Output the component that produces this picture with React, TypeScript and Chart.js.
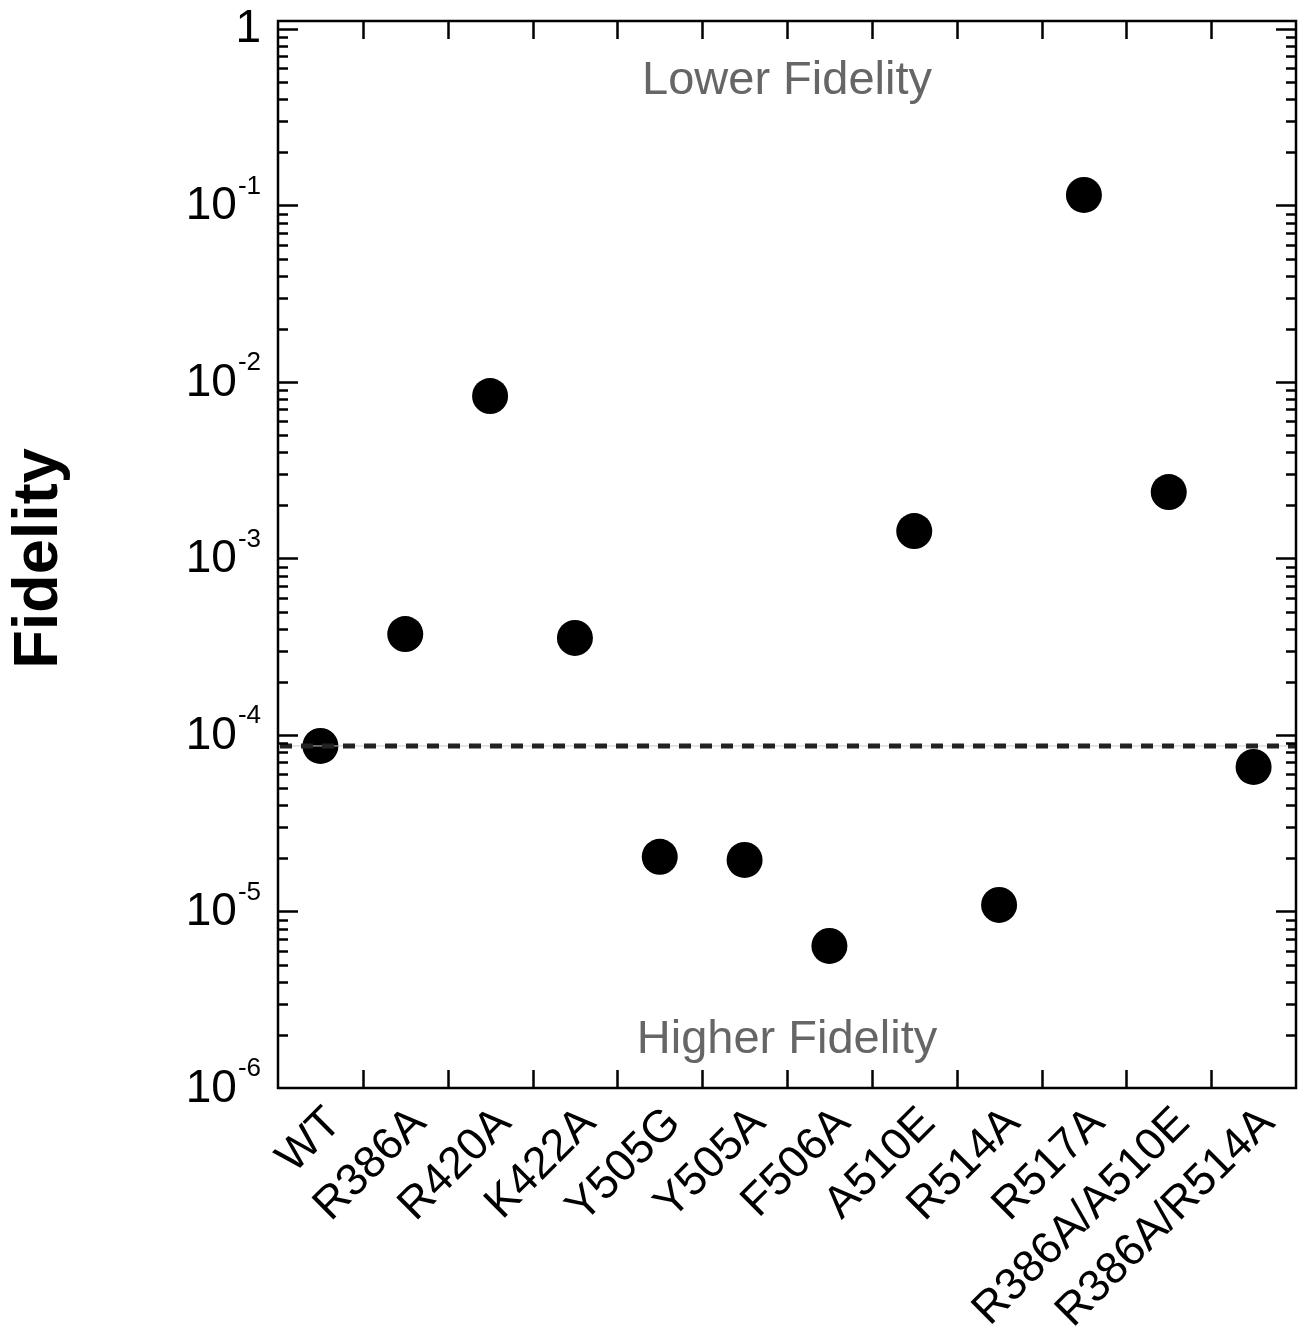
import React, { useEffect, useRef } from "react";
import { Chart, registerables } from "chart.js";

Chart.register(...registerables);

const categories = [
  "WT",
  "R386A",
  "R420A",
  "K422A",
  "Y505G",
  "Y505A",
  "F506A",
  "A510E",
  "R514A",
  "R517A",
  "R386A/A510E",
  "R386A/R514A",
];
const fidelity = [
  8.67e-5, 3.73e-4, 8.33e-3, 3.55e-4, 2.04e-5, 1.96e-5, 6.38e-6, 1.43e-3,
  1.09e-5, 0.1147, 2.38e-3, 6.59e-5,
];
const wtReference = 8.67e-5;
const yMin = 1e-6;
const yMax = 1.11;
const decadeExponents = [0, -1, -2, -3, -4, -5, -6];
const minorMultipliers = [2, 3, 4, 5, 6, 7, 8, 9];
const topNote = "Lower Fidelity";
const bottomNote = "Higher Fidelity";
const yTitle = "Fidelity";

const FONT = "'Liberation Sans', Arial, sans-serif";

const axisPlugin = {
  id: "axisPlugin",
  afterDatasetsDraw(chart: any) {
    const { ctx, chartArea: a, scales } = chart;
    const yr = scales.y.getPixelForValue(wtReference);
    ctx.save();
    ctx.strokeStyle = "#c8c8c8";
    ctx.lineWidth = 1;
    ctx.beginPath();
    ctx.moveTo(a.left, yr);
    ctx.lineTo(a.right, yr);
    ctx.stroke();
    ctx.setLineDash([12, 9]);
    ctx.lineWidth = 5;
    ctx.strokeStyle = "#222222";
    ctx.beginPath();
    ctx.moveTo(a.left + 2, yr);
    ctx.lineTo(a.right, yr);
    ctx.stroke();
    ctx.restore();
  },
  afterDraw(chart: any) {
    const { ctx, chartArea: a, scales } = chart;
    const y = scales.y;
    const x = scales.x;
    ctx.save();
    ctx.strokeStyle = "#000";
    ctx.lineWidth = 2.5;
    ctx.lineCap = "butt";
    ctx.strokeRect(a.left, a.top, a.right - a.left, a.bottom - a.top);

    // y ticks (left & right, inward)
    const drawYTick = (v: number, len: number) => {
      const py = Math.round(y.getPixelForValue(v)) + 0.5;
      ctx.beginPath();
      ctx.moveTo(a.left, py);
      ctx.lineTo(a.left + len, py);
      ctx.moveTo(a.right, py);
      ctx.lineTo(a.right - len, py);
      ctx.stroke();
    };
    decadeExponents.forEach((e) => {
      const v = Math.pow(10, e);
      if (e > -6) drawYTick(v, 20);
      if (e < 0) {
        minorMultipliers.forEach((m) => {
          const mv = m * v;
          if (mv <= yMax) drawYTick(mv, 10);
        });
      }
    });

    // x ticks at category boundaries (top & bottom, inward)
    for (let i = 1; i < categories.length; i++) {
      const px =
        Math.round((x.getPixelForValue(i - 1) + x.getPixelForValue(i)) / 2) +
        0.5;
      ctx.beginPath();
      ctx.moveTo(px, a.bottom);
      ctx.lineTo(px, a.bottom - 18);
      ctx.moveTo(px, a.top);
      ctx.lineTo(px, a.top + 18);
      ctx.stroke();
    }

    // x category labels, rotated 45 degrees
    ctx.fillStyle = "#000";
    ctx.font = `45px ${FONT}`;
    ctx.textAlign = "right";
    ctx.textBaseline = "middle";
    categories.forEach((c, i) => {
      const px = x.getPixelForValue(i);
      ctx.save();
      ctx.translate(px + 14, a.bottom + 28);
      ctx.rotate(-Math.PI / 4);
      ctx.fillText(c, 0, 0);
      ctx.restore();
    });

    // y tick labels with superscripts
    const rightEdge = a.left - 17;
    decadeExponents.forEach((e) => {
      const py = y.getPixelForValue(Math.pow(10, e));
      ctx.textAlign = "right";
      ctx.textBaseline = "middle";
      if (e === 0) {
        ctx.font = `46px ${FONT}`;
        ctx.fillText("1", rightEdge, py);
        return;
      }
      const sup = String(e);
      ctx.font = `26px ${FONT}`;
      const wSup = ctx.measureText(sup).width;
      ctx.fillText(sup, rightEdge, py - 19);
      ctx.font = `46px ${FONT}`;
      ctx.fillText("10", rightEdge - wSup - 1, py + 1);
    });

    // annotations
    ctx.fillStyle = "#666666";
    ctx.font = `47px ${FONT}`;
    ctx.textAlign = "center";
    ctx.textBaseline = "middle";
    const cx = (a.left + a.right) / 2;
    ctx.fillText(topNote, cx, a.top + 60);
    ctx.fillText(bottomNote, cx, a.bottom - 48);

    // y title
    ctx.fillStyle = "#000";
    ctx.font = `bold 63px ${FONT}`;
    ctx.translate(40, (a.top + a.bottom) / 2 + 4);
    ctx.rotate(-Math.PI / 2);
    ctx.textAlign = "center";
    ctx.textBaseline = "middle";
    ctx.fillText(yTitle, 0, 0);
    ctx.restore();
  },
};

export default function App() {
  const ref = useRef<HTMLCanvasElement | null>(null);
  useEffect(() => {
    document.body.style.margin = "0";
    const canvas = ref.current;
    if (!canvas) return;
    const chart = new Chart(canvas, {
      type: "line",
      data: {
        labels: categories,
        datasets: [
          {
            data: fidelity,
            showLine: false,
            pointRadius: 18,
            pointHoverRadius: 18,
            pointBackgroundColor: "#000",
            pointBorderColor: "#000",
            pointBorderWidth: 0,
            borderColor: "#000",
          },
        ],
      },
      options: {
        responsive: false,
        animation: false,
        devicePixelRatio: 1,
        layout: {
          autoPadding: false,
          padding: { left: 278, right: 9, top: 21, bottom: 0 },
        },
        plugins: {
          legend: { display: false },
          tooltip: { enabled: false },
        },
        scales: {
          x: {
            type: "category",
            offset: true,
            grid: { display: false },
            border: { display: false },
            ticks: { display: false },
            afterFit: (s: any) => {
              s.height = 249;
              s.paddingLeft = 0;
              s.paddingRight = 0;
            },
          },
          y: {
            type: "logarithmic",
            min: yMin,
            max: yMax,
            display: false,
          },
        },
      },
      plugins: [axisPlugin],
    });
    return () => chart.destroy();
  }, []);
  return (
    <div style={{ position: "absolute", left: 0, top: 0, width: 1305, height: 1337 }}>
      <canvas ref={ref} width={1305} height={1337} />
    </div>
  );
}
